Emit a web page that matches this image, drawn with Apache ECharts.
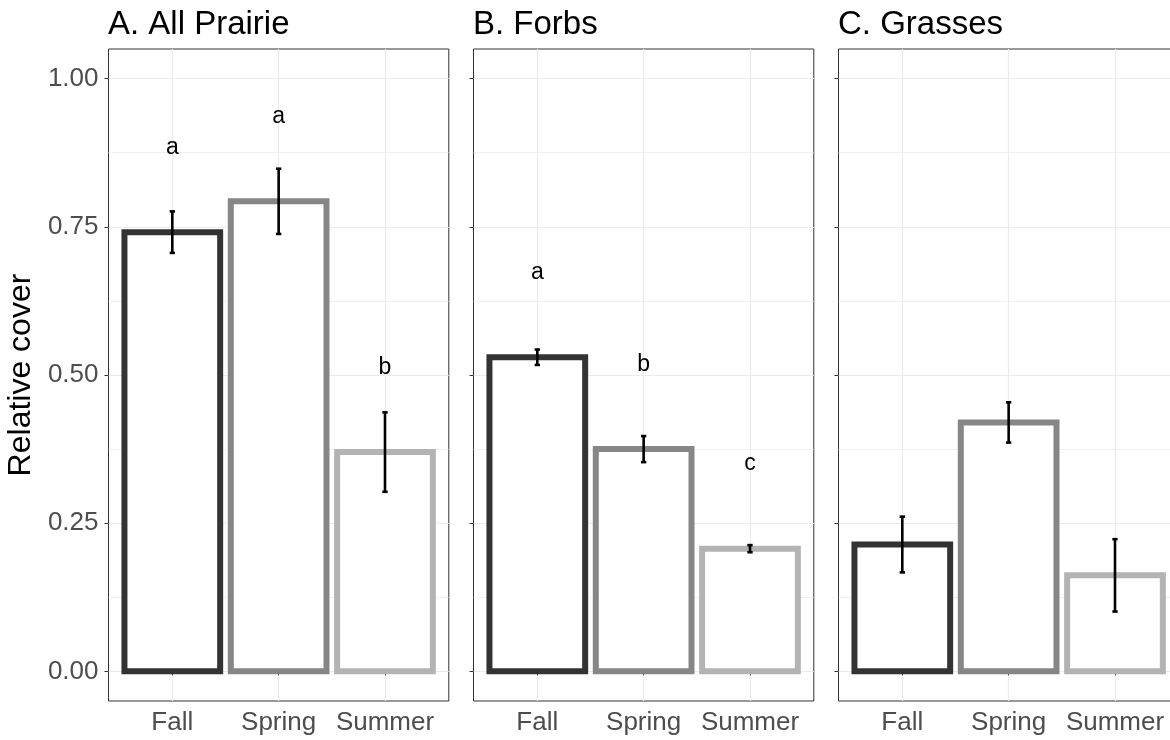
<!DOCTYPE html>
<html>
<head>
<meta charset="utf-8">
<script src="https://cdn.jsdelivr.net/npm/echarts@6/dist/echarts.min.js"></script>
<style>
  html, body { margin: 0; padding: 0; background: #ffffff; }
  #chart { width: 1170px; height: 740px; }
</style>
</head>
<body>
<div id="chart"></div>
<script>
// Seasons on the x axis and panel headings
const seasons = ['Fall', 'Spring', 'Summer'];
const panelTitles = ['A. All Prairie', 'B. Forbs', 'C. Grasses'];

// Mean relative cover, standard error and significance letters per panel
const prairieMean = [0.741, 0.793, 0.370];
const prairieSE = [0.035, 0.055, 0.067];
const prairieLetters = ['a', 'a', 'b'];

const forbsMean = [0.530, 0.375, 0.207];
const forbsSE = [0.013, 0.022, 0.006];
const forbsLetters = ['a', 'b', 'c'];

const grassesMean = [0.214, 0.420, 0.162];
const grassesSE = [0.047, 0.034, 0.061];
const grassesLetters = ['', '', ''];

// Y axis tick values
const yTicks = [0, 0.25, 0.5, 0.75, 1];
const yMinorTicks = [0.125, 0.375, 0.625, 0.875];

// ---- styling / layout ----
const FONT = '"Liberation Sans", Arial, sans-serif';
const seasonColors = ['#333333', '#868686', '#b3b3b3'];
const BAR_HALF = 0.45;        // bar width 0.9 category units
const CAP_HALF = 0.025;       // error bar cap half width
const LETTER_OFFSET = 0.143;  // letters sit above the mean
const panels = [
  { mean: prairieMean, se: prairieSE, letters: prairieLetters },
  { mean: forbsMean, se: forbsSE, letters: forbsLetters },
  { mean: grassesMean, se: grassesSE, letters: grassesLetters }
];
const panelLeft = [108.5, 473.5, 838.5];
const PANEL_W = 340.3, PANEL_TOP = 49, PANEL_H = 652;

const grid = [], xAxis = [], yAxis = [], series = [], title = [];

panels.forEach((p, i) => {
  grid.push({
    left: panelLeft[i], top: PANEL_TOP, width: PANEL_W, height: PANEL_H,
    show: true, borderColor: '#333333', borderWidth: 1,
    backgroundColor: 'transparent', containLabel: false,
    outerBoundsMode: 'none'
  });
  title.push({
    text: panelTitles[i], left: panelLeft[i] - 0.5, top: 8, padding: 0,
    textStyle: { fontFamily: FONT, fontSize: 33, fontWeight: 'normal', color: '#000000' }
  });
  xAxis.push({
    gridIndex: i, type: 'value', min: 0.4, max: 3.6,
    axisLine: { show: false },
    axisTick: { show: true, customValues: [1, 2, 3], length: 4, lineStyle: { color: '#333333', width: 1 } },
    axisLabel: {
      show: true, customValues: [1, 2, 3],
      formatter: v => seasons[Math.round(v) - 1],
      color: '#4d4d4d', fontSize: 26, fontFamily: FONT, margin: 9
    },
    splitLine: { show: true, lineStyle: { color: '#ebebeb', width: 1.2 } }
  });
  // major ticks, labels and gridlines
  yAxis.push({
    gridIndex: i, type: 'value', min: -0.05, max: 1.05,
    axisLine: { show: false },
    axisTick: { show: true, customValues: yTicks, length: 4, lineStyle: { color: '#333333', width: 1 } },
    axisLabel: {
      show: i === 0, customValues: yTicks,
      formatter: v => v.toFixed(2),
      color: '#4d4d4d', fontSize: 26, fontFamily: FONT, margin: 10
    },
    splitLine: { show: true, lineStyle: { color: '#ebebeb', width: 1.2 } },
    name: i === 0 ? 'Relative cover' : '',
    nameLocation: 'middle', nameRotate: 90, nameGap: 71,
    nameTextStyle: { fontFamily: FONT, fontSize: 32, color: '#000000' }
  });
  // minor gridlines
  yAxis.push({
    gridIndex: i, type: 'value', min: -0.05, max: 1.05,
    axisLine: { show: false },
    axisTick: { show: false, customValues: yMinorTicks },
    axisLabel: { show: false, customValues: yMinorTicks },
    splitLine: { show: true, lineStyle: { color: '#ebebeb', width: 0.7 } }
  });

  series.push({
    type: 'custom',
    xAxisIndex: i, yAxisIndex: i * 2,
    clip: false,
    data: p.mean.map((m, k) => [k + 1, m, p.se[k], k]),
    renderItem: (params, api) => {
      const x = api.value(0), m = api.value(1), se = api.value(2), k = api.value(3);
      const tl = api.coord([x - BAR_HALF, m]);
      const br = api.coord([x + BAR_HALF, 0]);
      const top = api.coord([x, m + se]);
      const bot = api.coord([x, m - se]);
      const capL = api.coord([x - CAP_HALF, 0])[0];
      const capR = api.coord([x + CAP_HALF, 0])[0];
      const children = [
        {
          type: 'rect',
          shape: { x: tl[0], y: tl[1], width: br[0] - tl[0], height: br[1] - tl[1] },
          style: { fill: '#ffffff', stroke: seasonColors[k], lineWidth: 6 }
        },
        { type: 'line', shape: { x1: top[0], y1: top[1], x2: bot[0], y2: bot[1] },
          style: { stroke: '#000000', lineWidth: 2.6 } },
        { type: 'line', shape: { x1: capL, y1: top[1], x2: capR, y2: top[1] },
          style: { stroke: '#000000', lineWidth: 2.6 } },
        { type: 'line', shape: { x1: capL, y1: bot[1], x2: capR, y2: bot[1] },
          style: { stroke: '#000000', lineWidth: 2.6 } }
      ];
      const letter = p.letters[k];
      if (letter) {
        const lp = api.coord([x, m + LETTER_OFFSET]);
        children.push({
          type: 'text', x: lp[0], y: lp[1],
          style: {
            text: letter, fill: '#000000', fontSize: 23, fontFamily: FONT,
            align: 'center', verticalAlign: 'middle',
            textAlign: 'center', textVerticalAlign: 'middle'
          }
        });
      }
      return { type: 'group', children };
    }
  });
});

const chart = echarts.init(document.getElementById('chart'), null, { renderer: 'canvas' });
chart.setOption({
  backgroundColor: '#ffffff',
  animation: false,
  title, grid, xAxis, yAxis, series
});
</script>
</body>
</html>
